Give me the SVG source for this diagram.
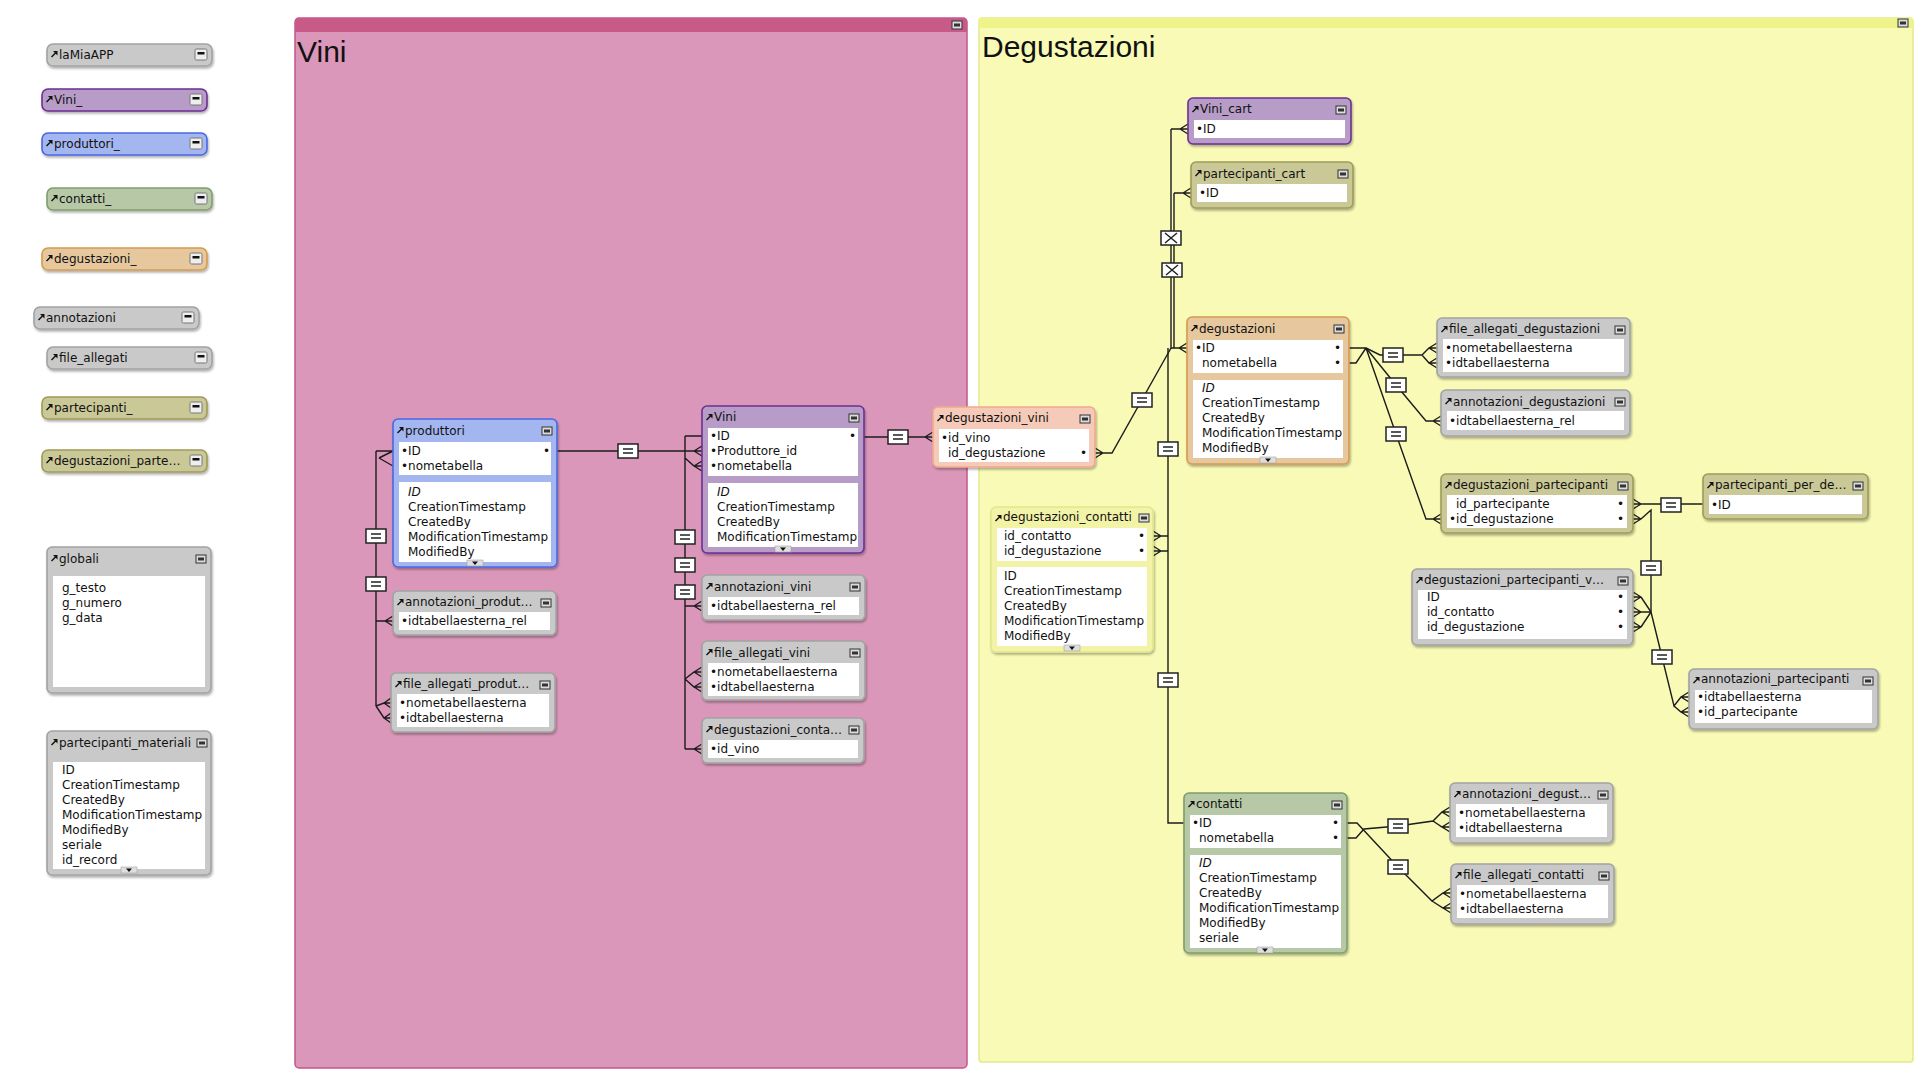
<svg xmlns="http://www.w3.org/2000/svg" width="1920" height="1080" viewBox="0 0 1920 1080">
<defs>
<style>
.f{stroke-width:1.6;filter:url(#ds)}
.gray{fill:#c9c9c9;stroke:#a2a2a2}
.purple{fill:#b69cc6;stroke:#6e2f93}
.blue{fill:#a3b6f0;stroke:#4a68e2}
.green{fill:#b6c8a6;stroke:#7f9e6c}
.orange{fill:#e7c89e;stroke:#d59b50}
.olive{fill:#cac897;stroke:#9e9c58}
.salmon{fill:#f6cab8;stroke:#efa98e}
.yel{fill:#f3f3a8;stroke:#e2e78c}
.w{fill:#fff}
.t{font-family:"DejaVu Sans","Lucida Grande",sans-serif;font-size:12px;fill:#111}
.it{font-style:italic}
.big{font-family:"Liberation Sans",Arial,sans-serif;font-size:30px;fill:#111}
.ln{fill:none;stroke:#1c1c1c;stroke-width:1.4}
</style>
<filter id="ds" x="-5%" y="-10%" width="115%" height="130%">
<feDropShadow dx="1" dy="2" stdDeviation="1.2" flood-color="#000" flood-opacity="0.3"/>
</filter>
<g id="ar"><path d="M0.5 7L5 2.5" stroke="#111" stroke-width="1.4"/><path d="M2 1H6.5V5.5Z" fill="#111"/></g>
<g id="be"><rect x="0" y="0" width="10" height="8" fill="#dcdcdc" stroke="#333" stroke-width="1"/><rect x="2" y="2.5" width="6" height="3" fill="#333"/></g>
<g id="bc"><rect x="0" y="0" width="12" height="11" rx="1.5" fill="#eee" stroke="#777" stroke-width="1"/><rect x="2.5" y="3" width="7" height="2.5" fill="#111"/></g>
<g id="scr"><rect x="-8" y="-3" width="16" height="6" fill="#dedede" stroke="#999" stroke-width="0.5"/><path d="M-3 -1.5H3L0 2Z" fill="#111"/></g>
<g id="eq"><rect x="-10" y="-7" width="20" height="14" fill="#fff" stroke="#222" stroke-width="1.5"/><path d="M-5 -2H5M-5 2H5" stroke="#222" stroke-width="1.5"/></g>
<g id="xb"><rect x="-10" y="-7" width="20" height="14" fill="#fff" stroke="#222" stroke-width="1.5"/><path d="M-6 -5L6 5M-6 5L6 -5" stroke="#222" stroke-width="1.5"/></g>
</defs>
<rect width="1920" height="1080" fill="#fff"/>

<g id="area-vini">
<rect x="295" y="18" width="672" height="1050" rx="4" fill="#db97b9" stroke="#c4578a" stroke-width="1.5"/>
<path d="M295 32V22a4 4 0 0 1 4-4H963a4 4 0 0 1 4 4V32Z" fill="#c85a89"/>
<use href="#be" x="952" y="21"/>
<text class="big" x="297" y="62">Vini</text>
</g>

<g id="area-degustazioni">
<rect x="979" y="18" width="934" height="1044" rx="3" fill="#f8fab6" stroke="#e3e98e" stroke-width="1.5"/>
<rect x="979" y="18" width="934" height="10" fill="#eef48a"/>
<use href="#be" x="1898" y="19"/>
<text class="big" x="982" y="57">Degustazioni</text>
</g>

<g id="connectors">
<path class="ln" d="M376 451V706M376 451H393M379 458L393 451M379 458L393 466M376 621H393M385 621L393 616M385 621L393 626M376 706L384 703H391M376 706L384 718H391M384 703L391 698M384 703L391 708M384 718L391 713M384 718L391 723"/>
<path class="ln" d="M557 451H685"/>
<path class="ln" d="M685 436V749M685 436H702M685 451H702M694 451L702 446M694 451L702 456M685 458L694 466H702M694 466L702 461M694 466L702 471M685 606H702M694 606L702 601M694 606L702 611M685 679L694 672H702M694 672L702 667M694 672L702 677M685 679L694 687H702M694 687L702 682M694 687L702 692M685 749H702M694 749L702 744M694 749L702 754"/>
<path class="ln" d="M864 437H933M925 437L933 432M925 437L933 442"/>
<path class="ln" d="M1171 129V348M1171 129H1188M1180 129L1188 124M1180 129L1188 134M1174 193V348M1174 193H1191M1183 193L1191 188M1183 193L1191 198M1171 348H1187M1179 348L1187 343M1179 348L1187 353M1171 348L1112 453H1095M1103 453L1095 448M1103 453L1095 458"/>
<path class="ln" d="M1168 348V823H1184M1153 536H1168M1161 536L1153 531M1161 536L1153 541M1153 551H1168M1161 551L1153 546M1161 551L1153 556"/>
<path class="ln" d="M1349 348H1366M1349 363H1356L1366 348M1366 348L1380 355H1422M1422 355L1429 348H1437M1422 355L1429 363H1437M1429 348L1437 343M1429 348L1437 353M1429 363L1437 358M1429 363L1437 368"/>
<path class="ln" d="M1366 348L1396 385L1426 421H1441M1433 421L1441 416M1433 421L1441 426"/>
<path class="ln" d="M1366 348L1396 434L1426 519H1441M1433 519L1441 514M1433 519L1441 524"/>
<path class="ln" d="M1641 504H1703M1641 504L1633 499M1641 504L1633 509M1641 504H1633M1641 519L1633 514M1641 519L1633 524M1641 519H1633M1641 519L1651 510V612"/>
<path class="ln" d="M1651 612L1641 597M1651 612H1641M1651 612L1641 627M1641 597L1633 592M1641 597L1633 602M1641 597H1633M1641 612L1633 607M1641 612L1633 617M1641 612H1633M1641 627L1633 622M1641 627L1633 632M1641 627H1633"/>
<path class="ln" d="M1651 612L1674 706L1681 697H1689M1674 706L1681 712H1689M1681 697L1689 692M1681 697L1689 702M1681 712L1689 707M1681 712L1689 717"/>
<path class="ln" d="M1347 838H1356L1364 829L1398 826L1433 821L1442 812H1450M1433 821L1442 827H1450M1442 812L1450 807M1442 812L1450 817M1442 827L1450 822M1442 827L1450 832"/>
<path class="ln" d="M1347 823H1357L1398 867L1432 901L1443 893H1451M1432 901L1443 908H1451M1443 893L1451 888M1443 893L1451 898M1443 908L1451 903M1443 908L1451 913"/>
<use href="#eq" x="376" y="536"/>
<use href="#eq" x="376" y="584"/>
<use href="#eq" x="628" y="451"/>
<use href="#eq" x="685" y="537"/>
<use href="#eq" x="685" y="565"/>
<use href="#eq" x="685" y="592"/>
<use href="#eq" x="898" y="437"/>
<use href="#xb" x="1171" y="238"/>
<use href="#xb" x="1172" y="270"/>
<use href="#eq" x="1142" y="400"/>
<use href="#eq" x="1168" y="449"/>
<use href="#eq" x="1168" y="680"/>
<use href="#eq" x="1393" y="355"/>
<use href="#eq" x="1396" y="385"/>
<use href="#eq" x="1396" y="434"/>
<use href="#eq" x="1671" y="505"/>
<use href="#eq" x="1651" y="568"/>
<use href="#eq" x="1662" y="657"/>
<use href="#eq" x="1398" y="826"/>
<use href="#eq" x="1398" y="867"/>
</g>

<g id="n-laMiaAPP"><rect class="f gray" x="47" y="44" width="165" height="22" rx="6"/><use href="#ar" x="51" y="50"/><text class="t" x="59" y="59">laMiaAPP</text><use href="#bc" x="195" y="49"/></g>
<g id="n-Vini_"><rect class="f purple" x="42" y="89" width="165" height="22" rx="6"/><use href="#ar" x="46" y="95"/><text class="t" x="54" y="104">Vini_</text><use href="#bc" x="190" y="94"/></g>
<g id="n-produttori_"><rect class="f blue" x="42" y="133" width="165" height="22" rx="6"/><use href="#ar" x="46" y="139"/><text class="t" x="54" y="148">produttori_</text><use href="#bc" x="190" y="138"/></g>
<g id="n-contatti_"><rect class="f green" x="47" y="188" width="165" height="22" rx="6"/><use href="#ar" x="51" y="194"/><text class="t" x="59" y="203">contatti_</text><use href="#bc" x="195" y="193"/></g>
<g id="n-degustazioni_"><rect class="f orange" x="42" y="248" width="165" height="22" rx="6"/><use href="#ar" x="46" y="254"/><text class="t" x="54" y="263">degustazioni_</text><use href="#bc" x="190" y="253"/></g>
<g id="n-annotazioni"><rect class="f gray" x="34" y="307" width="165" height="22" rx="6"/><use href="#ar" x="38" y="313"/><text class="t" x="46" y="322">annotazioni</text><use href="#bc" x="182" y="312"/></g>
<g id="n-file_allegati"><rect class="f gray" x="47" y="347" width="165" height="22" rx="6"/><use href="#ar" x="51" y="353"/><text class="t" x="59" y="362">file_allegati</text><use href="#bc" x="195" y="352"/></g>
<g id="n-partecipanti_"><rect class="f olive" x="42" y="397" width="165" height="22" rx="6"/><use href="#ar" x="46" y="403"/><text class="t" x="54" y="412">partecipanti_</text><use href="#bc" x="190" y="402"/></g>
<g id="n-degustazioni_parte"><rect class="f olive" x="42" y="450" width="165" height="22" rx="6"/><use href="#ar" x="46" y="456"/><text class="t" x="54" y="465">degustazioni_parte…</text><use href="#bc" x="190" y="455"/></g>

<g id="n-globali"><rect class="f gray" x="47" y="547" width="164" height="146" rx="5"/><rect class="w" x="53" y="576" width="152" height="111"/><use href="#ar" x="51" y="554"/><text class="t" x="59" y="563">globali</text><use href="#be" x="196" y="555"/>
<text class="t" x="62" y="592">g_testo</text><text class="t" x="62" y="607">g_numero</text><text class="t" x="62" y="622">g_data</text></g>

<g id="n-partecipanti_materiali"><rect class="f gray" x="47" y="731" width="164" height="144" rx="5"/><rect class="w" x="53" y="762" width="152" height="107"/><use href="#ar" x="51" y="738"/><text class="t" x="59" y="747">partecipanti_materiali</text><use href="#be" x="197" y="739"/>
<text class="t" x="62" y="774">ID</text><text class="t" x="62" y="789">CreationTimestamp</text><text class="t" x="62" y="804">CreatedBy</text><text class="t" x="62" y="819">ModificationTimestamp</text><text class="t" x="62" y="834">ModifiedBy</text><text class="t" x="62" y="849">seriale</text><text class="t" x="62" y="864">id_record</text><use href="#scr" x="129" y="870"/></g>

<g id="n-produttori"><rect class="f blue" x="393" y="419" width="164" height="148" rx="5"/><rect class="w" x="399" y="442" width="152" height="33"/><rect class="w" x="399" y="482" width="152" height="80"/><use href="#ar" x="397" y="426"/><text class="t" x="405" y="435">produttori</text><use href="#be" x="542" y="427"/>
<text class="t" x="401" y="455">•ID</text><text class="t" x="543" y="455">•</text><text class="t" x="401" y="470">•nometabella</text>
<text class="t it" x="408" y="496">ID</text><text class="t" x="408" y="511">CreationTimestamp</text><text class="t" x="408" y="526">CreatedBy</text><text class="t" x="408" y="541">ModificationTimestamp</text><text class="t" x="408" y="556">ModifiedBy</text><use href="#scr" x="475" y="563"/></g>

<g id="n-annotazioni_produt"><rect class="f gray" x="393" y="591" width="163" height="44" rx="5"/><rect class="w" x="399" y="612" width="151" height="18"/><use href="#ar" x="397" y="598"/><text class="t" x="405" y="606">annotazioni_produt…</text><use href="#be" x="541" y="599"/>
<text class="t" x="401" y="625">•idtabellaesterna_rel</text></g>

<g id="n-file_allegati_produt"><rect class="f gray" x="391" y="673" width="164" height="59" rx="5"/><rect class="w" x="397" y="694" width="152" height="33"/><use href="#ar" x="395" y="680"/><text class="t" x="403" y="688">file_allegati_produt…</text><use href="#be" x="540" y="681"/>
<text class="t" x="399" y="707">•nometabellaesterna</text><text class="t" x="399" y="722">•idtabellaesterna</text></g>

<g id="n-Vini"><rect class="f purple" x="702" y="406" width="162" height="147" rx="5"/><rect class="w" x="708" y="428" width="150" height="48"/><rect class="w" x="708" y="483" width="150" height="64"/><use href="#ar" x="706" y="413"/><text class="t" x="714" y="421">Vini</text><use href="#be" x="849" y="414"/>
<text class="t" x="710" y="440">•ID</text><text class="t" x="849" y="440">•</text><text class="t" x="710" y="455">•Produttore_id</text><text class="t" x="710" y="470">•nometabella</text>
<text class="t it" x="717" y="496">ID</text><text class="t" x="717" y="511">CreationTimestamp</text><text class="t" x="717" y="526">CreatedBy</text><text class="t" x="717" y="541">ModificationTimestamp</text><use href="#scr" x="783" y="549"/></g>

<g id="n-annotazioni_vini"><rect class="f gray" x="702" y="575" width="163" height="45" rx="5"/><rect class="w" x="708" y="597" width="151" height="18"/><use href="#ar" x="706" y="582"/><text class="t" x="714" y="591">annotazioni_vini</text><use href="#be" x="850" y="583"/>
<text class="t" x="710" y="610">•idtabellaesterna_rel</text></g>

<g id="n-file_allegati_vini"><rect class="f gray" x="702" y="641" width="163" height="59" rx="5"/><rect class="w" x="708" y="663" width="151" height="33"/><use href="#ar" x="706" y="648"/><text class="t" x="714" y="657">file_allegati_vini</text><use href="#be" x="850" y="649"/>
<text class="t" x="710" y="676">•nometabellaesterna</text><text class="t" x="710" y="691">•idtabellaesterna</text></g>

<g id="n-degustazioni_conta"><rect class="f gray" x="702" y="718" width="162" height="45" rx="5"/><rect class="w" x="708" y="740" width="150" height="18"/><use href="#ar" x="706" y="725"/><text class="t" x="714" y="734">degustazioni_conta…</text><use href="#be" x="849" y="726"/>
<text class="t" x="710" y="753">•id_vino</text></g>

<g id="n-degustazioni_vini"><rect class="f salmon" x="933" y="407" width="162" height="60" rx="5"/><rect class="w" x="939" y="429" width="150" height="33"/><use href="#ar" x="937" y="414"/><text class="t" x="945" y="422">degustazioni_vini</text><use href="#be" x="1080" y="415"/>
<text class="t" x="941" y="442">•id_vino</text><text class="t" x="948" y="457">id_degustazione</text><text class="t" x="1080" y="457">•</text></g>

<g id="n-Vini_cart"><rect class="f purple" x="1188" y="98" width="163" height="46" rx="5"/><rect class="w" x="1194" y="120" width="151" height="18"/><use href="#ar" x="1192" y="105"/><text class="t" x="1200" y="113">Vini_cart</text><use href="#be" x="1336" y="106"/>
<text class="t" x="1196" y="133">•ID</text></g>

<g id="n-partecipanti_cart"><rect class="f olive" x="1191" y="162" width="162" height="46" rx="5"/><rect class="w" x="1197" y="184" width="150" height="18"/><use href="#ar" x="1195" y="169"/><text class="t" x="1203" y="178">partecipanti_cart</text><use href="#be" x="1338" y="170"/>
<text class="t" x="1199" y="197">•ID</text></g>

<g id="n-degustazioni"><rect class="f orange" x="1187" y="317" width="162" height="147" rx="5"/><rect class="w" x="1193" y="340" width="150" height="33"/><rect class="w" x="1193" y="380" width="150" height="78"/><use href="#ar" x="1191" y="324"/><text class="t" x="1199" y="333">degustazioni</text><use href="#be" x="1334" y="325"/>
<text class="t" x="1195" y="352">•ID</text><text class="t" x="1334" y="352">•</text><text class="t" x="1202" y="367">nometabella</text><text class="t" x="1334" y="367">•</text>
<text class="t it" x="1202" y="392">ID</text><text class="t" x="1202" y="407">CreationTimestamp</text><text class="t" x="1202" y="422">CreatedBy</text><text class="t" x="1202" y="437">ModificationTimestamp</text><text class="t" x="1202" y="452">ModifiedBy</text><use href="#scr" x="1268" y="460"/></g>

<g id="n-degustazioni_contatti"><rect class="f yel" x="991" y="507" width="162" height="145" rx="5"/><rect class="w" x="997" y="528" width="150" height="33"/><rect class="w" x="997" y="567" width="150" height="79"/><use href="#ar" x="995" y="514"/><text class="t" x="1003" y="521">degustazioni_contatti</text><use href="#be" x="1139" y="514"/>
<text class="t" x="1004" y="540">id_contatto</text><text class="t" x="1138" y="540">•</text><text class="t" x="1004" y="555">id_degustazione</text><text class="t" x="1138" y="555">•</text>
<text class="t" x="1004" y="580">ID</text><text class="t" x="1004" y="595">CreationTimestamp</text><text class="t" x="1004" y="610">CreatedBy</text><text class="t" x="1004" y="625">ModificationTimestamp</text><text class="t" x="1004" y="640">ModifiedBy</text><use href="#scr" x="1072" y="648"/></g>

<g id="n-contatti"><rect class="f green" x="1184" y="793" width="163" height="160" rx="5"/><rect class="w" x="1190" y="815" width="151" height="33"/><rect class="w" x="1190" y="855" width="151" height="93"/><use href="#ar" x="1188" y="800"/><text class="t" x="1196" y="808">contatti</text><use href="#be" x="1332" y="801"/>
<text class="t" x="1192" y="827">•ID</text><text class="t" x="1332" y="827">•</text><text class="t" x="1199" y="842">nometabella</text><text class="t" x="1332" y="842">•</text>
<text class="t it" x="1199" y="867">ID</text><text class="t" x="1199" y="882">CreationTimestamp</text><text class="t" x="1199" y="897">CreatedBy</text><text class="t" x="1199" y="912">ModificationTimestamp</text><text class="t" x="1199" y="927">ModifiedBy</text><text class="t" x="1199" y="942">seriale</text><use href="#scr" x="1265" y="950"/></g>

<g id="n-file_allegati_degustazioni"><rect class="f gray" x="1437" y="318" width="193" height="59" rx="5"/><rect class="w" x="1443" y="339" width="181" height="33"/><use href="#ar" x="1441" y="325"/><text class="t" x="1449" y="333">file_allegati_degustazioni</text><use href="#be" x="1615" y="326"/>
<text class="t" x="1445" y="352">•nometabellaesterna</text><text class="t" x="1445" y="367">•idtabellaesterna</text></g>

<g id="n-annotazioni_degustazioni"><rect class="f gray" x="1441" y="390" width="189" height="46" rx="5"/><rect class="w" x="1447" y="411" width="177" height="19"/><use href="#ar" x="1445" y="397"/><text class="t" x="1453" y="406">annotazioni_degustazioni</text><use href="#be" x="1615" y="398"/>
<text class="t" x="1449" y="425">•idtabellaesterna_rel</text></g>

<g id="n-degustazioni_partecipanti"><rect class="f olive" x="1441" y="474" width="192" height="59" rx="5"/><rect class="w" x="1447" y="495" width="180" height="33"/><use href="#ar" x="1445" y="481"/><text class="t" x="1453" y="489">degustazioni_partecipanti</text><use href="#be" x="1618" y="482"/>
<text class="t" x="1456" y="508">id_partecipante</text><text class="t" x="1617" y="508">•</text><text class="t" x="1449" y="523">•id_degustazione</text><text class="t" x="1617" y="523">•</text></g>

<g id="n-partecipanti_per_de"><rect class="f olive" x="1703" y="474" width="165" height="45" rx="5"/><rect class="w" x="1709" y="495" width="153" height="19"/><use href="#ar" x="1707" y="481"/><text class="t" x="1715" y="489">partecipanti_per_de…</text><use href="#be" x="1853" y="482"/>
<text class="t" x="1711" y="509">•ID</text></g>

<g id="n-degustazioni_partecipanti_v"><rect class="f gray" x="1412" y="569" width="221" height="76" rx="5"/><rect class="w" x="1418" y="590" width="209" height="49"/><use href="#ar" x="1416" y="576"/><text class="t" x="1424" y="584">degustazioni_partecipanti_v…</text><use href="#be" x="1618" y="577"/>
<text class="t" x="1427" y="601">ID</text><text class="t" x="1617" y="601">•</text><text class="t" x="1427" y="616">id_contatto</text><text class="t" x="1617" y="616">•</text><text class="t" x="1427" y="631">id_degustazione</text><text class="t" x="1617" y="631">•</text></g>

<g id="n-annotazioni_partecipanti"><rect class="f gray" x="1689" y="669" width="189" height="60" rx="5"/><rect class="w" x="1695" y="690" width="177" height="33"/><use href="#ar" x="1693" y="676"/><text class="t" x="1701" y="683">annotazioni_partecipanti</text><use href="#be" x="1863" y="677"/>
<text class="t" x="1697" y="701">•idtabellaesterna</text><text class="t" x="1697" y="716">•id_partecipante</text></g>

<g id="n-annotazioni_degust"><rect class="f gray" x="1450" y="783" width="163" height="60" rx="5"/><rect class="w" x="1456" y="804" width="151" height="33"/><use href="#ar" x="1454" y="790"/><text class="t" x="1462" y="798">annotazioni_degust…</text><use href="#be" x="1598" y="791"/>
<text class="t" x="1458" y="817">•nometabellaesterna</text><text class="t" x="1458" y="832">•idtabellaesterna</text></g>

<g id="n-file_allegati_contatti"><rect class="f gray" x="1451" y="864" width="163" height="60" rx="5"/><rect class="w" x="1457" y="885" width="151" height="33"/><use href="#ar" x="1455" y="871"/><text class="t" x="1463" y="879">file_allegati_contatti</text><use href="#be" x="1599" y="872"/>
<text class="t" x="1459" y="898">•nometabellaesterna</text><text class="t" x="1459" y="913">•idtabellaesterna</text></g>
</svg>
